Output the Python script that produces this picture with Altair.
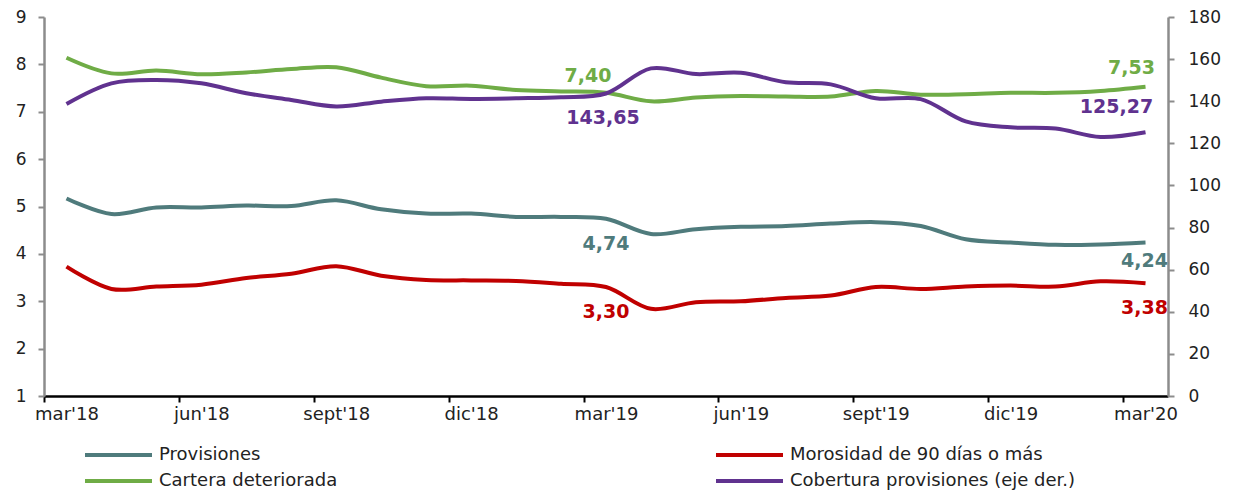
import json
import altair as alt
import pandas as pd

months = ["mar'18", "abr'18", "may'18", "jun'18", "jul'18", "ago'18", "sept'18", "oct'18",
          "nov'18", "dic'18", "ene'19", "feb'19", "mar'19", "abr'19", "may'19", "jun'19",
          "jul'19", "ago'19", "sept'19", "oct'19", "nov'19", "dic'19", "ene'20", "feb'20", "mar'20"]

provisiones = [5.17, 4.84, 4.98, 4.98, 5.02, 5.01, 5.13, 4.94, 4.85, 4.85, 4.78, 4.78, 4.74,
               4.42, 4.52, 4.57, 4.59, 4.64, 4.67, 4.59, 4.31, 4.24, 4.19, 4.20, 4.24]
morosidad = [3.73, 3.26, 3.31, 3.35, 3.49, 3.58, 3.74, 3.54, 3.45, 3.44, 3.43, 3.37, 3.30,
             2.84, 2.98, 3.00, 3.07, 3.12, 3.30, 3.26, 3.31, 3.33, 3.31, 3.42, 3.38]
cartera = [8.14, 7.81, 7.87, 7.79, 7.83, 7.90, 7.94, 7.72, 7.54, 7.55, 7.46, 7.43, 7.40,
           7.22, 7.30, 7.33, 7.32, 7.32, 7.44, 7.36, 7.37, 7.40, 7.40, 7.44, 7.53]
cobertura = [138.7, 148.5, 150.1, 148.5, 143.8, 140.6, 137.5, 139.8, 141.4, 141.1, 141.4, 141.9,
             143.65, 155.6, 152.9, 153.5, 149.0, 148.0, 141.4, 141.0, 130.4, 127.6, 127.0, 123.0, 125.27]

series_names = ["Provisiones", "Morosidad de 90 días o más", "Cartera deteriorada",
                "Cobertura provisiones (eje der.)"]
series_colors = ["#4F7B7C", "#C00000", "#6FAC46", "#60328F"]
label_months = ["mar'19", "mar'20"]
left_ticks = [1, 2, 3, 4, 5, 6, 7, 8, 9]
right_ticks = [0, 20, 40, 60, 80, 100, 120, 140, 160, 180]

FONT = "DejaVu Sans"
W, H = 1124, 379
half = W / len(months) / 2

rows = []
for name, vals in zip(series_names, [provisiones, morosidad, cartera, cobertura]):
    for i, (m, v) in enumerate(zip(months, vals)):
        rows.append({"serie": name, "idx": i, "mes": m, "valor": v,
                     "texto": f"{v:.2f}".replace(".", ",")})
df = pd.DataFrame(rows)
left_df = df[df["serie"] != series_names[3]]
right_df = df[df["serie"] == series_names[3]]

quarter_labels = months[::3]
x_enc = alt.X(
    "idx:Q",
    scale=alt.Scale(domain=[-0.5, len(months) - 0.5], nice=False, zero=False),
    axis=alt.Axis(
        title=None, values=list(range(0, len(months), 3)),
        labelExpr=json.dumps(quarter_labels) + "[round(datum.value/3)]",
        tickOffset=-half, labelOffset=half, labelFlush=False, labelOverlap=False,
        domainColor="#000000", domainWidth=2.5, tickColor="#000000", tickWidth=2,
        tickSize=6, labelPadding=3, grid=False, labelFontSize=18,
    ),
)

color_enc = alt.Color("serie:N", scale=alt.Scale(domain=series_names, range=series_colors),
                      legend=alt.Legend(title=None))

y_left = alt.Y("valor:Q", scale=alt.Scale(domain=[1, 9], nice=False, zero=False),
               axis=alt.Axis(title=None, values=left_ticks, orient="left", grid=False,
                             domainColor="#8C8C8C", domainWidth=2.5, tickColor="#8C8C8C",
                             tickWidth=2, tickSize=6, labelPadding=12))
y_right = alt.Y("valor:Q", scale=alt.Scale(domain=[0, 180], nice=False, zero=True),
                axis=alt.Axis(title=None, values=right_ticks, orient="right", grid=False,
                              domainColor="#8C8C8C", domainWidth=2.5, tickColor="#8C8C8C",
                              tickWidth=2, tickSize=6, labelPadding=14))

line_left = alt.Chart(left_df).mark_line(strokeWidth=4, interpolate="catmull-rom").encode(
    x=x_enc, y=y_left, color=color_enc, detail="serie:N")
line_right = alt.Chart(right_df).mark_line(strokeWidth=4, interpolate="catmull-rom").encode(
    x=x_enc, y=y_right, color=color_enc)

# label offsets (style only): series -> [(dx, dy) for mar'19, (dx, dy) for mar'20]
offsets = {
    series_names[0]: [(0, 25), (-1, 18)],
    series_names[1]: [(0, 25), (-1, 25)],
    series_names[2]: [(-18, -17), (-14, -19)],
    series_names[3]: [(-3, 24), (-29, -25)],
}

def text_layers(src, name, color, yenc):
    out = []
    for m, (dx, dy) in zip(label_months, offsets[name]):
        sub = src[(src["serie"] == name) & (src["mes"] == m)]
        out.append(alt.Chart(sub).mark_text(
            align="center", baseline="middle", dx=dx, dy=dy, font=FONT,
            fontSize=19, fontWeight="bold", color=color).encode(x=x_enc, y=yenc, text="texto:N"))
    return out

left_texts = []
for k in range(3):
    left_texts += text_layers(left_df, series_names[k], series_colors[k], y_left)
right_texts = text_layers(right_df, series_names[3], series_colors[3], y_right)

left = alt.layer(line_left, *left_texts)
right = alt.layer(line_right, *right_texts)

chart = alt.layer(left, right).resolve_scale(y="independent").properties(
    width=W, height=H,
    autosize=alt.AutoSizeParams(type="none"),
    padding={"left": 36, "top": 9, "right": 72, "bottom": 95},
).configure_view(stroke=None).configure_axis(
    labelFont=FONT, labelFontSize=17, labelColor="#222222",
).configure_legend(
    orient="none", legendX=39, legendY=429, columns=2, direction="horizontal",
    symbolType="stroke", symbolSize=4489, symbolStrokeWidth=4, labelFont=FONT,
    labelFontSize=18, labelColor="#222222", columnPadding=376, rowPadding=8,
    clipHeight=18, labelOffset=5, padding=0, labelLimit=600,
)

chart.save("out.html", embed_options={"renderer": "svg", "actions": False})
